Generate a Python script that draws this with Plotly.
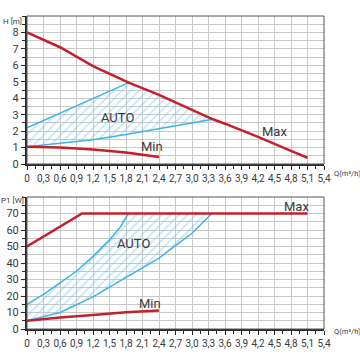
import plotly.graph_objects as go

# ---------- data ----------
x_ticks = [0, 0.3, 0.6, 0.9, 1.2, 1.5, 1.8, 2.1, 2.4, 2.7, 3.0, 3.3, 3.6, 3.9, 4.2, 4.5, 4.8, 5.1, 5.4]
x_ticklabels = ["0", "0,3", "0,6", "0,9", "1,2", "1,5", "1,8", "2,1", "2,4", "2,7", "3,0", "3,3",
                "3,6", "3,9", "4,2", "4,5", "4,8", "5,1", "5,4"]
h_ticks = [0, 1, 2, 3, 4, 5, 6, 7, 8]
p_ticks = [0, 10, 20, 30, 40, 50, 60, 70]

# Head curves H [m]
h_max_q = [0, 0.6, 1.2, 1.85, 2.4, 3.0, 3.38, 3.6, 4.2, 4.8, 5.1]
h_max_v = [8.0, 7.1, 5.95, 4.95, 4.2, 3.3, 2.72, 2.45, 1.65, 0.8, 0.38]
h_min_q = [0, 0.6, 1.2, 1.8, 2.4]
h_min_v = [1.05, 1.0, 0.88, 0.7, 0.42]
h_auto_up_q = [0, 1.85]
h_auto_up_v = [2.2, 4.95]
h_auto_lo_q = [0, 0.6, 1.2, 1.8, 2.4, 3.0, 3.38]
h_auto_lo_v = [1.05, 1.25, 1.48, 1.8, 2.15, 2.47, 2.72]

# Power curves P1 [W]
p_max_q = [0, 1.0, 5.1]
p_max_v = [50, 70, 70]
p_min_q = [0, 0.6, 1.2, 1.8, 2.4]
p_min_v = [5, 7, 8.5, 10.2, 11.2]
p_auto_up_q = [0, 0.3, 0.6, 0.9, 1.2, 1.5, 1.7, 1.84]
p_auto_up_v = [15, 21, 28, 35, 44, 54, 62, 70]
p_auto_lo_q = [0, 0.6, 1.2, 1.8, 2.4, 2.7, 3.0, 3.36]
p_auto_lo_v = [5, 10, 19.5, 31, 43, 50.5, 58, 70]

RED = "#c4202c"
BLUE = "#3db4e8"
HATCH = "#7cc8ee"
GRID = "#c9c9c9"
AX = "#2a2a2a"
TXT = "#3a3a3a"
FONT = "Liberation Sans Narrow, Roboto, sans-serif"

SIZE = 360


def px(x):
    return x / SIZE


def py(y):
    return 1 - y / SIZE


fig = go.Figure()

# ---------- top: hatched AUTO region ----------
mid_q = [q for q in h_max_q if h_auto_up_q[-1] < q < h_auto_lo_q[-1]]
mid_v = [v for q, v in zip(h_max_q, h_max_v) if h_auto_up_q[-1] < q < h_auto_lo_q[-1]]
poly_q = h_auto_up_q + mid_q + h_auto_lo_q[::-1]
poly_v = h_auto_up_v + mid_v + h_auto_lo_v[::-1]
pattern = dict(shape="/", fgcolor=HATCH, bgcolor="rgba(0,0,0,0)", size=6, solidity=0.25)
fig.add_trace(go.Scatter(x=poly_q, y=poly_v, fill="toself", mode="none",
                         fillcolor="rgba(0,0,0,0)", fillpattern=pattern,
                         xaxis="x", yaxis="y", hoverinfo="skip"))
for qs, vs, c, w in [(h_auto_up_q, h_auto_up_v, BLUE, 1.5), (h_auto_lo_q, h_auto_lo_v, BLUE, 1.5),
                     (h_max_q, h_max_v, RED, 2.5), (h_min_q, h_min_v, RED, 2.5)]:
    fig.add_trace(go.Scatter(x=qs, y=vs, mode="lines", line=dict(color=c, width=w),
                             xaxis="x", yaxis="y"))

# ---------- bottom: hatched AUTO region ----------
top_q = [q for q in p_max_q if p_auto_up_q[-1] < q < p_auto_lo_q[-1]]
top_v = [v for q, v in zip(p_max_q, p_max_v) if p_auto_up_q[-1] < q < p_auto_lo_q[-1]]
poly2_q = p_auto_up_q + top_q + p_auto_lo_q[::-1]
poly2_v = p_auto_up_v + top_v + p_auto_lo_v[::-1]
fig.add_trace(go.Scatter(x=poly2_q, y=poly2_v, fill="toself", mode="none",
                         fillcolor="rgba(0,0,0,0)", fillpattern=pattern,
                         xaxis="x2", yaxis="y2", hoverinfo="skip"))
for qs, vs, c, w in [(p_auto_up_q, p_auto_up_v, BLUE, 1.5), (p_auto_lo_q, p_auto_lo_v, BLUE, 1.5),
                     (p_max_q, p_max_v, RED, 2.5), (p_min_q, p_min_v, RED, 2.5)]:
    fig.add_trace(go.Scatter(x=qs, y=vs, mode="lines", line=dict(color=c, width=w),
                             xaxis="x2", yaxis="y2"))

xdom = [px(27), px(324)]
xcommon = dict(range=[0, 5.4], domain=xdom, tickvals=x_ticks, ticktext=x_ticklabels,
               showgrid=True, gridcolor=GRID, gridwidth=1, zeroline=False,
               showline=True, linecolor=AX, linewidth=2, mirror=False, automargin=False,
               ticks="outside", ticklen=4, tickcolor=AX, tickwidth=1,
               minor=dict(dtick=0.15, ticks="outside", ticklen=3, tickcolor=AX, showgrid=False),
               tickfont=dict(family=FONT, size=10, color=TXT), fixedrange=True)
ycommon = dict(showgrid=True, gridcolor=GRID, gridwidth=1, zeroline=False,
               showline=True, linecolor=AX, linewidth=2, automargin=False,
               ticks="outside", ticklen=4, tickcolor=AX, tickwidth=1,
               tickfont=dict(family=FONT, size=11, color=TXT), fixedrange=True)

fig.update_layout(
    width=SIZE, height=SIZE, margin=dict(l=0, r=0, t=0, b=0),
    paper_bgcolor="white", plot_bgcolor="white", showlegend=False,
    xaxis=dict(**xcommon, anchor="y"),
    yaxis=dict(**ycommon, range=[0, 9], tickvals=h_ticks,
               minor=dict(dtick=0.5, showgrid=True, gridcolor=GRID, ticks="outside",
                          ticklen=3, tickcolor=AX),
               domain=[py(164), py(16)], anchor="x"),
    xaxis2=dict(**xcommon, anchor="y2"),
    yaxis2=dict(**ycommon, range=[0, 80], tickvals=p_ticks,
                minor=dict(dtick=5, showgrid=True, gridcolor=GRID, ticks="outside",
                           ticklen=3, tickcolor=AX),
                domain=[py(329), py(197)], anchor="x2"),
)

# plot frame (top and right borders)
for yr in ["y", "y2"]:
    xr = "x" if yr == "y" else "x2"
    fig.add_shape(type="rect", xref=f"{xr} domain", yref=f"{yr} domain",
                  x0=0, x1=1, y0=0, y1=1, line=dict(color="#555555", width=1), layer="above")

ann = [
    dict(x=1.64, y=2.8, xref="x", yref="y", text="AUTO", size=13),
    dict(x=2.27, y=1.05, xref="x", yref="y", text="Min", size=13),
    dict(x=4.5, y=1.95, xref="x", yref="y", text="Max", size=13),
    dict(x=1.93, y=52, xref="x2", yref="y2", text="AUTO", size=13),
    dict(x=2.24, y=15.5, xref="x2", yref="y2", text="Min", size=13),
    dict(x=4.9, y=74, xref="x2", yref="y2", text="Max", size=13),
]
for a in ann:
    fig.add_annotation(x=a["x"], y=a["y"], xref=a["xref"], yref=a["yref"], text=a["text"],
                       showarrow=False, font=dict(family=FONT, size=a["size"], color=TXT))

# axis titles
titles = [(13, 16, "H [m]", "center", 8), (12, 200, "P1 [W]", "center", 8),
          (333, 173, "Q(m³/h)", "left", 7.5), (333, 337, "Q(m³/h)", "left", 7.5)]
for tx, ty, t, anc, sz in titles:
    fig.add_annotation(x=px(tx), y=py(ty), xref="paper", yref="paper", text=t, xanchor=anc,
                       showarrow=False, borderpad=0,
                       font=dict(family=FONT, size=sz, color=TXT))

fig.write_html("out.html", config={"displayModeBar": False},
               post_script="document.body.style.margin='0';document.body.style.overflow='hidden';")
